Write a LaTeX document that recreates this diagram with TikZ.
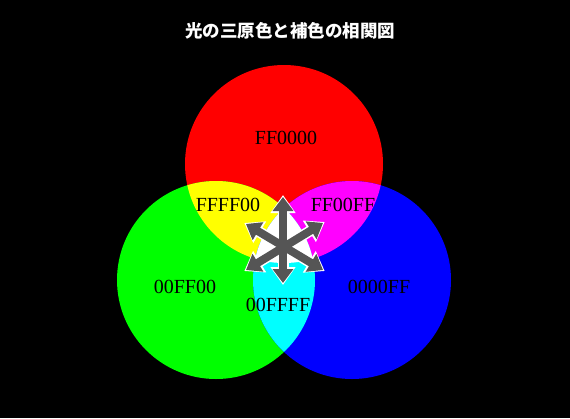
\documentclass[tikz,border=0pt]{standalone}
\usepackage{fontspec}
\setmainfont{Liberation Serif}
\newfontfamily\jpfont{Noto Sans CJK JP}
\usetikzlibrary{arrows.meta}
\definecolor{rgbred}{RGB}{255,0,0}
\definecolor{rgbgreen}{RGB}{0,255,0}
\definecolor{rgbblue}{RGB}{0,0,255}
\definecolor{rgbyellow}{RGB}{255,255,0}
\definecolor{rgbmagenta}{RGB}{255,0,255}
\definecolor{rgbcyan}{RGB}{0,255,255}
\definecolor{arrgray}{RGB}{85,85,85}

\begin{document}
\begin{tikzpicture}[
   x=1pt, y=-1pt,
   lbl/.style={
     font=\fontsize{20}{20}\selectfont,
     text=black,
     inner sep=0pt,
    },
   outline/.style={
     draw=white,
     line width=11pt,
     {Triangle[width=24pt,length=18pt]}-{Triangle[width=24pt,length=18pt]},
     shorten <=-2pt, shorten >=-2pt,
    },
   arr/.style={
     draw=arrgray,
     line width=8pt,
     {Triangle[width=20pt,length=14pt]}-{Triangle[width=20pt,length=14pt]},
    },
  ]

\fill[black] (0,0) rectangle (570,418);

\coordinate (red) at (284,164);
\coordinate (grn) at (216,280);
\coordinate (blu) at (352,280);

\fill[rgbred] (red) circle (99pt);
\fill[rgbgreen] (grn) circle (99pt);
\fill[rgbblue] (blu) circle (99pt);
\begin{scope}
\clip (red) circle (99pt);
\fill[rgbyellow] (grn) circle (99pt);
\fill[rgbmagenta] (blu) circle (99pt);
\end{scope}
\begin{scope}
\clip (grn) circle (99pt);
\fill[rgbcyan] (blu) circle (99pt);
\clip (blu) circle (99pt);
\fill[white] (red) circle (99pt);
\end{scope}

\node[font=\jpfont\bfseries\fontsize{17.5}{17.5}\selectfont, text=white] (title) at (290,31) {光の三原色と補色の相関図};

\node[lbl] (r) at (286,138) {FF0000};
\node[lbl] (y) at (228,205) {FFFF00};
\node[lbl] (m) at (343,205) {FF00FF};
\node[lbl] (g) at (185,287) {00FF00};
\node[lbl] (b) at (379,287) {0000FF};
\node[lbl] (c) at (278,305) {00FFFF};

\coordinate (up) at (283,197);
\coordinate (dn) at (283,283);
\coordinate (ul) at (246,224);
\coordinate (lr) at (323,270);
\coordinate (ll) at (246,270);
\coordinate (ur) at (323,223);
\draw[outline] (up) -- (dn);
\draw[outline] (ul) -- (lr);
\draw[outline] (ll) -- (ur);
\draw[arr] (up) -- (dn);
\draw[arr] (ul) -- (lr);
\draw[arr] (ll) -- (ur);
\end{tikzpicture}
\end{document}
